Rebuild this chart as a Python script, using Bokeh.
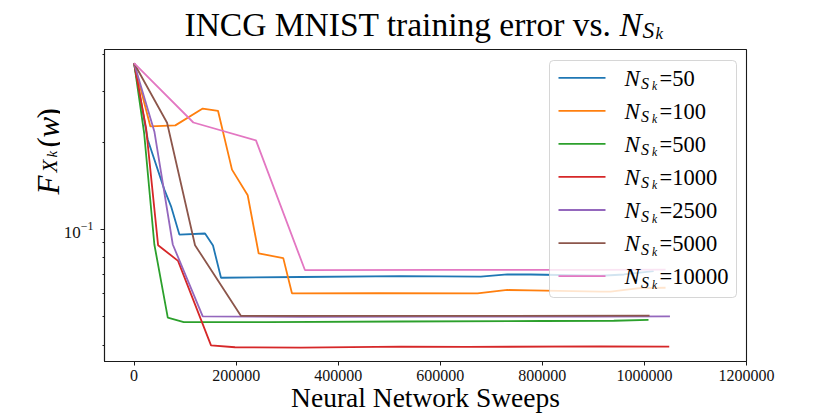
from math import pi
from bokeh.plotting import figure
from bokeh.layouts import column, row
from bokeh.models import (Label, BoxAnnotation, Arrow, FixedTicker,
                          NumeralTickFormatter, Range1d)
from bokeh.embed import file_html
from bokeh.resources import INLINE

# ---------------- data ----------------
series_labels = ["50", "100", "500", "1000", "2500", "5000", "10000"]
colors = ["#1f77b4", "#ff7f0e", "#2ca02c", "#d62728", "#9467bd", "#8c564b", "#e377c2"]

sweeps_50 = [0, 26800, 59300, 72400, 88700, 139000, 154600, 170300, 326900,
             522600, 679300, 731500, 777100, 914100, 960000, 1018000]
error_50 = [0.374, 0.2038, 0.1372, 0.1202, 0.0961, 0.0969, 0.0881, 0.0682, 0.0686,
            0.0691, 0.0688, 0.0700, 0.0700, 0.0693, 0.0700, 0.0719]

sweeps_100 = [0, 31900, 80800, 134500, 164400, 191800, 222600, 244100, 292300,
              309300, 480000, 672800, 731500, 777100, 914100, 933700, 990000, 1041400]
error_100 = [0.374, 0.2265, 0.2284, 0.2610, 0.2564, 0.1608, 0.1312, 0.0827, 0.0797,
             0.0603, 0.0604, 0.0603, 0.0619, 0.0617, 0.0611, 0.0611, 0.0628, 0.0630]

sweeps_500 = [0, 19600, 39700, 66000, 97300, 260000, 523000, 800000, 940000, 1008000]
error_500 = [0.374, 0.2154, 0.0888, 0.0497, 0.0480, 0.0480, 0.0482, 0.0484, 0.0485, 0.0488]

sweeps_1000 = [0, 23500, 47000, 86100, 150700, 197700, 327000, 523000, 653000, 914000, 1048600]
error_1000 = [0.374, 0.2236, 0.0883, 0.0780, 0.0399, 0.0393, 0.0392, 0.0395, 0.0394, 0.0396, 0.0395]

sweeps_2500 = [0, 39700, 75800, 134500, 330000, 600000, 900000, 1050000]
error_2500 = [0.374, 0.2177, 0.0888, 0.0502, 0.0500, 0.0501, 0.0501, 0.0502]

sweeps_5000 = [0, 64600, 119400, 209500, 400000, 700000, 1010000]
error_5000 = [0.374, 0.2332, 0.0883, 0.0504, 0.0504, 0.0504, 0.0505]

sweeps_10000 = [0, 116100, 238800, 334700, 600000, 900000, 1041400]
error_10000 = [0.374, 0.2337, 0.2027, 0.0725, 0.0726, 0.0726, 0.0727]

all_sweeps = [sweeps_50, sweeps_100, sweeps_500, sweeps_1000, sweeps_2500, sweeps_5000, sweeps_10000]
all_errors = [error_50, error_100, error_500, error_1000, error_2500, error_5000, error_10000]

x_ticks = [0, 200000, 400000, 600000, 800000, 1000000, 1200000]
y_major = [0.1]
y_minor = [0.04, 0.05, 0.06, 0.07, 0.08, 0.09, 0.2, 0.3, 0.4]

title_text = "INCG MNIST training error vs."
xlabel_text = "Neural Network Sweeps"

FONT = "Liberation Serif"

# page layout
W, H = 830, 415
TH = 48          # height of the title strip
YW = 60          # width of the y-label strip
FL, FT, FB, FR = 103, 49, 363, 746   # frame edges in page pixels
TSHIFT = 11.5    # measured baseline offset of labels in the title strip
LSHIFT = 3.5     # measured baseline offset of legend labels


def text_strip(w, h):
    f = figure(width=w, height=h, x_range=Range1d(0, w), y_range=Range1d(0, h),
               x_axis_location=None, y_axis_location=None,
               output_backend="svg", toolbar_location=None,
               min_border=0, outline_line_color=None)
    f.grid.visible = False
    return f


def add_text(f, text, sx, sy, size, italic=False, angle=0.0):
    f.add_layout(Label(x=sx, y=sy, x_units="screen", y_units="screen",
                       text=text, text_font=FONT, text_font_size=f"{size}px",
                       text_font_style="italic" if italic else "normal",
                       angle=angle, text_align="left", text_baseline="alphabetic",
                       text_color="black"))


# ---------------- title strip ----------------
title_fig = text_strip(W, TH)


def tlab(text, px, py, size, italic=False):
    add_text(title_fig, text, px, TH - (py - TSHIFT), size, italic)


tlab(title_text, 184, 35, 33.5)
tlab("N", 619, 35, 33.5, italic=True)
tlab("S", 642, 41, 23.5, italic=True)
tlab("k", 655, 44.5, 17, italic=True)

# ---------------- y label strip ----------------
ylab_fig = text_strip(YW, H - TH)
R = pi / 2
add_text(ylab_fig, "F", 48, H - 248, 31, italic=True, angle=R)
add_text(ylab_fig, "X", 49, H - 226, 21, italic=True, angle=R)
add_text(ylab_fig, "k", 51, H - 211, 15, italic=True, angle=R)
add_text(ylab_fig, "(", 48, H - 201, 31, angle=R)
add_text(ylab_fig, "w", 48, H - 191, 31, italic=True, angle=R)
add_text(ylab_fig, ")", 48, H - 172, 31, angle=R)

# ---------------- main plot ----------------
p = figure(width=W - YW, height=H - TH, y_axis_type="log",
           x_range=Range1d(-58000, 1200000), y_range=Range1d(0.0351, 0.417),
           output_backend="svg", toolbar_location=None,
           min_border_left=FL - YW, min_border_right=W - FR,
           min_border_top=FT - TH, min_border_bottom=H - FB)

p.grid.visible = False
p.outline_line_color = "#1a1a1a"
p.outline_line_width = 1.1
p.background_fill_color = "white"
p.border_fill_color = "white"

for ax in (p.xaxis[0], p.yaxis[0]):
    ax.axis_line_color = "#1a1a1a"
    ax.axis_line_width = 1.1
    ax.major_tick_line_color = "#1a1a1a"
    ax.minor_tick_line_color = "#1a1a1a"
    ax.major_tick_out = 4
    ax.major_tick_in = 0
    ax.minor_tick_out = 2
    ax.minor_tick_in = 0
    ax.major_label_text_font = FONT
    ax.major_label_text_color = "#111111"

p.xaxis.ticker = FixedTicker(ticks=x_ticks, minor_ticks=[])
p.xaxis.formatter = NumeralTickFormatter(format="0")
p.xaxis.major_label_standoff = 4
p.xaxis.major_label_text_font_size = "16px"
p.xaxis.axis_label = xlabel_text
p.xaxis.axis_label_text_font = FONT
p.xaxis.axis_label_text_font_size = "27.5px"
p.xaxis.axis_label_text_font_style = "normal"
p.xaxis.axis_label_text_color = "black"
p.xaxis.axis_label_standoff = -2

p.yaxis.ticker = FixedTicker(ticks=y_major, minor_ticks=y_minor)
p.yaxis.major_label_standoff = 7
p.yaxis.major_label_text_font_size = "17px"

for xs, ys, c in zip(all_sweeps, all_errors, colors):
    p.line(xs, ys, line_color=c, line_width=1.8)


def lab(text, px, py, size, italic=False):
    add_text(p, text, px - FL, FB - (py - LSHIFT), size, italic)


# legend
p.add_layout(BoxAnnotation(left=548 - FL, right=735 - FL, top=FB - 62, bottom=FB - 299,
                           left_units="screen", right_units="screen",
                           top_units="screen", bottom_units="screen",
                           fill_color="white", fill_alpha=0.8,
                           line_color="#cccccc", line_width=1, line_alpha=0.8,
                           border_radius=4))
for i, (name, c) in enumerate(zip(series_labels, colors)):
    ly = 79.3 + 33.05 * i
    p.add_layout(Arrow(x_start=557 - FL, y_start=FB - ly, x_end=604 - FL, y_end=FB - ly,
                       start_units="screen", end_units="screen", end=None,
                       line_color=c, line_width=1.8))
    lab("N", 623, ly + 4, 23, italic=True)
    lab("S", 639.5, ly + 9.5, 16, italic=True)
    lab("k", 650.5, ly + 12, 11.5, italic=True)
    lab("=" + name, 658, ly + 4, 22.5)

layout = column(title_fig, row(ylab_fig, p, spacing=0), spacing=0)
open("out.html", "w").write(file_html(layout, INLINE))
